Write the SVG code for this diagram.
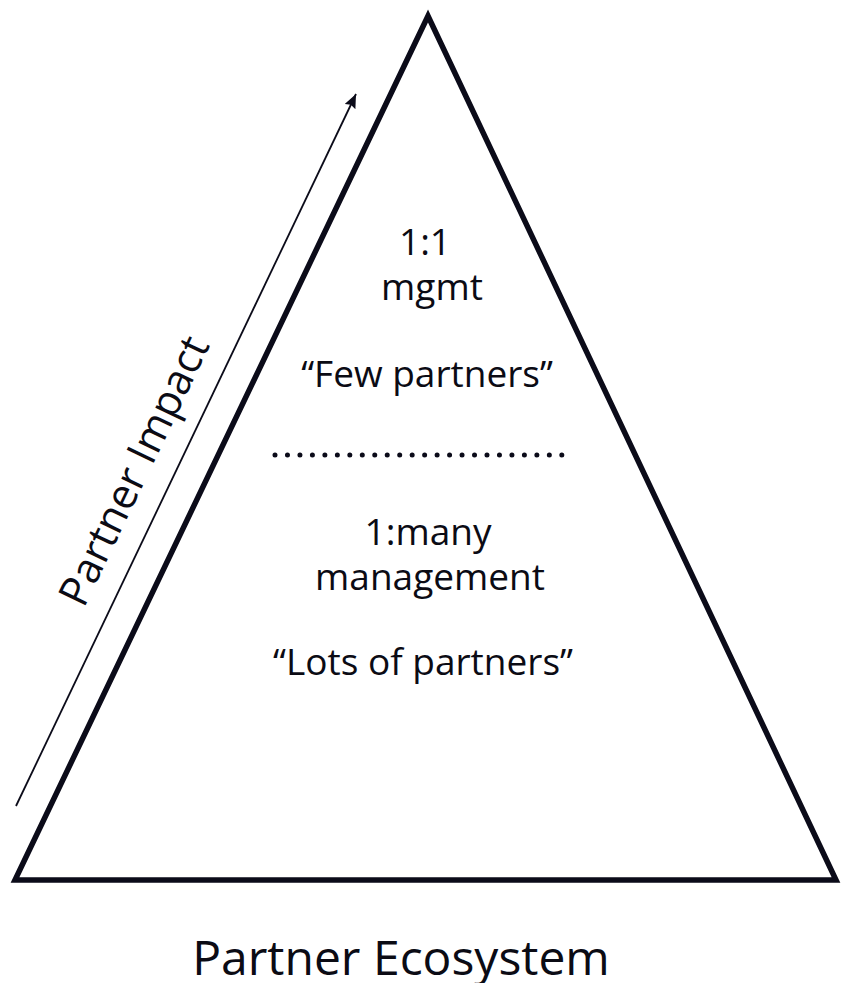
<svg xmlns="http://www.w3.org/2000/svg" width="841" height="983" viewBox="0 0 841 983">
  <style>
    .lbl { font-family: "Open Sans", "Noto Sans", "Liberation Sans", sans-serif; fill: #0b0b14; text-anchor: middle; }
    .body { font-size: 37px; }
    .axis { font-size: 42px; }
    .title { font-size: 48px; }
    .edge { fill: none; stroke: #0b0b19; }
  </style>
  <defs>
    <marker id="arrowHead" viewBox="0 0 14 12" refX="14" refY="6" markerWidth="14" markerHeight="12" markerUnits="userSpaceOnUse" orient="auto">
      <path d="M0,0 L14,6 L0,12 L2,6 z" fill="#0b0b19"/>
    </marker>
  </defs>
  <rect width="841" height="983" fill="#ffffff"/>

  <!-- pyramid outline -->
  <g id="pyramid">
    <polygon class="edge" points="428,16 836,880 15,880" stroke-width="5.5" stroke-linejoin="miter" stroke-miterlimit="10"/>
  </g>

  <!-- impact axis running up the left side -->
  <g id="connectors">
    <line x1="16" y1="806" x2="356" y2="94" stroke="#0b0b19" stroke-width="1.8" marker-end="url(#arrowHead)"/>
  </g>
  <g id="impact-label">
    <text class="lbl axis" transform="translate(147,477) rotate(-64.4)">Partner Impact</text>
  </g>

  <!-- top tier -->
  <g id="tier-top">
    <text class="lbl body" x="425" y="255">1:1</text>
    <text class="lbl body" x="432" y="300">mgmt</text>
    <text class="lbl body" x="427" y="387">“Few partners”</text>
  </g>

  <!-- tier divider -->
  <g id="divider">
    <line x1="275" y1="455" x2="562" y2="455" stroke="#0b0b19" stroke-width="5" stroke-linecap="round" stroke-dasharray="0 12.47"/>
  </g>

  <!-- bottom tier -->
  <g id="tier-bottom">
    <text class="lbl body" x="428" y="545">1:many</text>
    <text class="lbl body" x="430" y="590">management</text>
    <text class="lbl body" x="423" y="675">“Lots of partners”</text>
  </g>

  <g id="caption">
    <text class="lbl title" x="401" y="975">Partner Ecosystem</text>
  </g>
</svg>
